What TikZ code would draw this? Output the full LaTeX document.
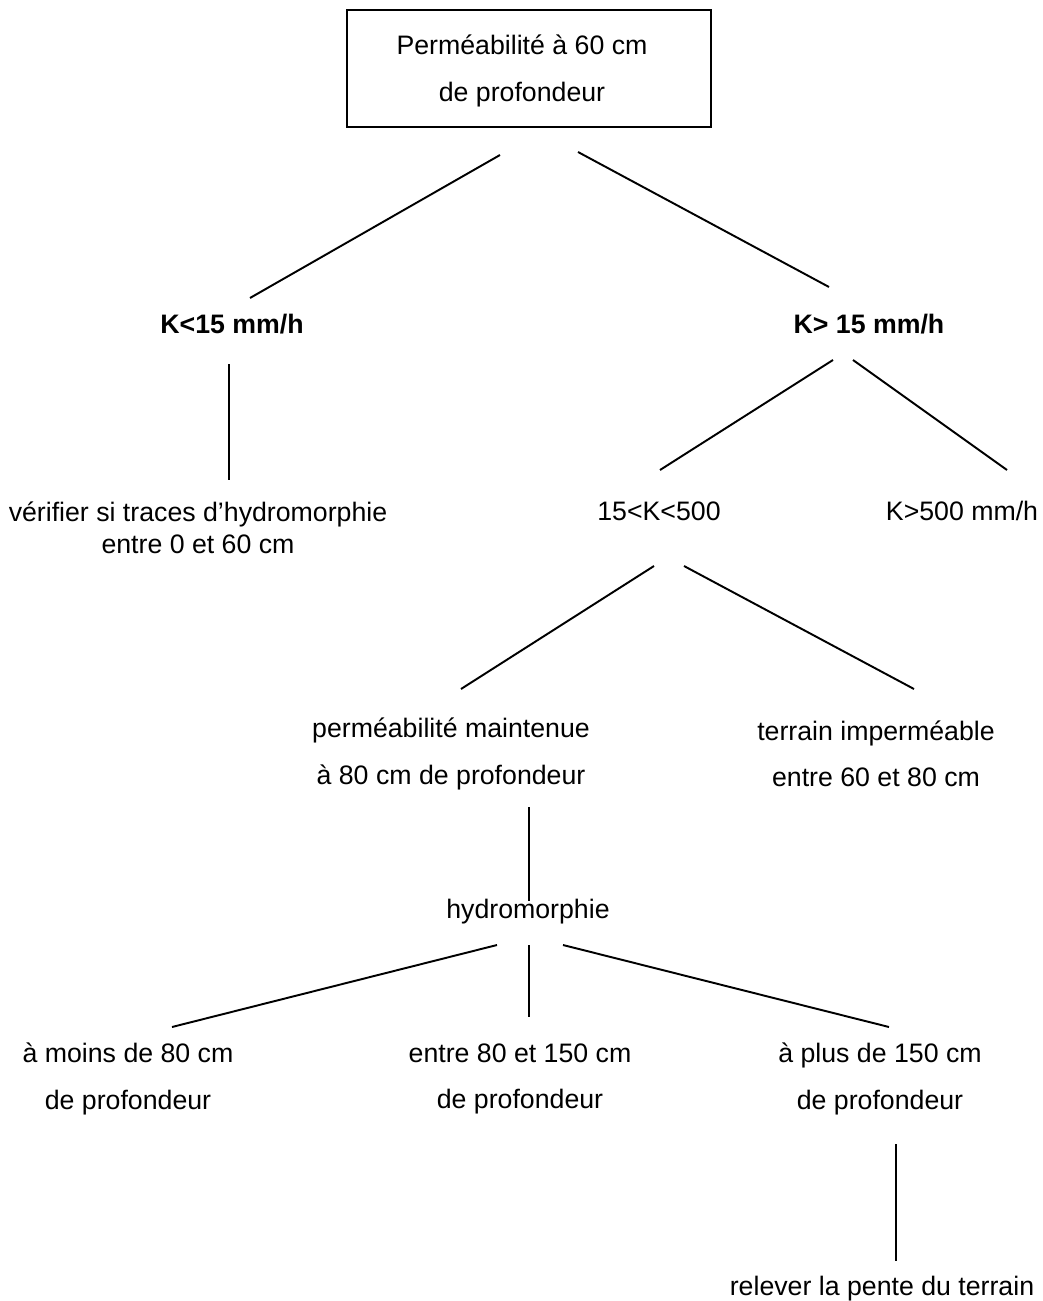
\documentclass[tikz,border=0pt]{standalone}
\usepackage{fontspec}
\setmainfont{Liberation Sans}

\begin{document}
\begin{tikzpicture}[x=0.02cm,y=-0.02cm,line width=1.1pt,
  txt/.style={font=\fontsize{15.2}{18}\selectfont,inner sep=0pt,align=center},
  ktxt/.style={txt,font=\fontsize{15.2}{18}\selectfont\bfseries}]
  \useasboundingbox (0,0) rectangle (1043,1301);

  % root
  \draw (347,10) rectangle (711,127);
  \node[txt] (root) at (522,71) {Perméabilité à 60 cm\\[9pt]de profondeur};

  % first level
  \node[ktxt] (kinf) at (232,324) {K<15 mm/h};
  \node[ktxt] (ksup) at (869,324) {K> 15 mm/h};
  \node[txt] (verif) at (198,528) {vérifier si traces d’hydromorphie\\entre 0 et 60 cm};
  \node[txt] (kmid) at (659,511) {15<K<500};
  \node[txt] (khigh) at (962,511) {K>500 mm/h};

  % second level
  \node[txt] (perm) at (451,754) {perméabilité maintenue\\[8.5pt]à 80 cm de profondeur};
  \node[txt] (imp) at (876,754) {terrain imperméable\\[8.5pt]entre 60 et 80 cm};
  \node[txt] (hydro) at (528,912) {hydromorphie};

  % third level
  \node[txt] (moins) at (128,1079) {à moins de 80 cm\\[8.5pt]de profondeur};
  \node[txt] (entre) at (520,1079) {entre 80 et 150 cm\\[8.5pt]de profondeur};
  \node[txt] (plus) at (880,1079) {à plus de 150 cm\\[8.5pt]de profondeur};
  \node[txt] (pente) at (882,1289) {relever la pente du terrain};

  % line ends
  \coordinate (a1) at (500,155); \coordinate (a2) at (250,298);
  \coordinate (b1) at (578,152); \coordinate (b2) at (829,287);
  \coordinate (c1) at (229,364); \coordinate (c2) at (229,480);
  \coordinate (d1) at (833,360); \coordinate (d2) at (660,470);
  \coordinate (e1) at (853,360); \coordinate (e2) at (1007,470);
  \coordinate (f1) at (654,566); \coordinate (f2) at (461,689);
  \coordinate (g1) at (684,566); \coordinate (g2) at (914,689);
  \coordinate (h1) at (529,807); \coordinate (h2) at (529,901);
  \coordinate (i1) at (497,945); \coordinate (i2) at (172,1027);
  \coordinate (j1) at (529,945); \coordinate (j2) at (529,1017);
  \coordinate (l1) at (563,945); \coordinate (l2) at (889,1027);
  \coordinate (m1) at (896,1144); \coordinate (m2) at (896,1261);

  \draw (a1) -- (a2);
  \draw (b1) -- (b2);
  \draw (c1) -- (c2);
  \draw (d1) -- (d2);
  \draw (e1) -- (e2);
  \draw (f1) -- (f2);
  \draw (g1) -- (g2);
  \draw (h1) -- (h2);
  \draw (i1) -- (i2);
  \draw (j1) -- (j2);
  \draw (l1) -- (l2);
  \draw (m1) -- (m2);
\end{tikzpicture}
\end{document}
